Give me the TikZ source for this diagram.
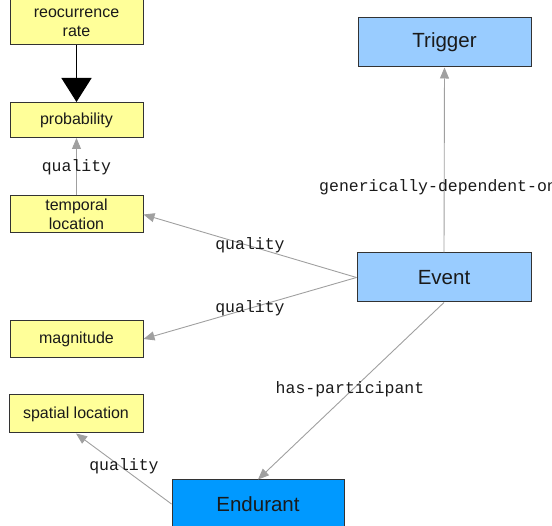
\documentclass[tikz,border=0pt]{standalone}
\usepackage{fontspec}
\setmainfont{Liberation Sans}
\newfontfamily\labelfont{Liberation Mono}
\usetikzlibrary{arrows.meta}
\definecolor{ylw}{HTML}{FFFF99}
\definecolor{lblue}{HTML}{99CCFF}
\definecolor{dblue}{HTML}{0099FF}
\definecolor{edgegray}{HTML}{A0A0A0}
\definecolor{txt}{HTML}{1A1A1A}
\tikzset{
  ybox/.style={draw=black!80, fill=ylw, line width=1pt, inner sep=0pt, minimum width=133pt, text=txt, align=center, font=\fontsize{16}{19}\selectfont},
  bbox/.style={draw=black!80, fill=lblue, line width=1pt, inner sep=0pt, minimum width=173pt, minimum height=49pt, text=txt, font=\fontsize{20.5}{24}\selectfont},
  rel/.style={draw=edgegray, line width=0.9pt, -{Triangle[length=11pt,width=9pt]}},
  rellabel/.style={font=\labelfont\fontsize{16.5}{18}\selectfont, text=txt, inner sep=0pt},
}
\begin{document}
\begin{tikzpicture}[x=1pt,y=-1pt]
\useasboundingbox (0,0) rectangle (552,526);
\begin{scope}
\clip (0,0) rectangle (552,526);
\node[ybox, minimum height=45pt] (reo) at (76.5,22.5) {reocurrence\\rate};
\node[ybox, minimum height=35pt] (prob) at (76.5,120) {\raisebox{-2pt}{probability}};
\node[ybox, minimum height=37pt] (temp) at (76.5,214.5) {temporal\\location};
\node[ybox, minimum height=37pt] (mag) at (76.5,339) {\raisebox{-1pt}{magnitude}};
\node[ybox, minimum height=38pt, minimum width=134pt] (spat) at (76,414) {spatial location};
\node[bbox] (trig) at (444.5,42.5) {Trigger};
\node[bbox, minimum width=174pt] (event) at (444,277.5) {Event};
\node[bbox, fill=dblue, minimum width=172pt, minimum height=48pt] (endu) at (258,504) {Endurant};

\draw[black, line width=1.4pt, -{Triangle[length=24pt,width=30pt]}] (reo) -- (prob);
\draw[rel] (temp) -- (prob) node[rellabel, pos=0.5] (q1) {quality};
\draw[rel] (event.west) -- (temp.east) node[rellabel, pos=0.5, yshift=1pt] (q2) {quality};
\draw[rel] (event.west) -- (mag.east) node[rellabel, pos=0.5, yshift=0pt] (q3) {quality};
\draw[rel] (event.north) -- (trig.south);
\node[rellabel, anchor=west] (gdo) at (319,187) {generically-dependent-on};
\draw[rel] (event.south) -- (endu.north);
\node[rellabel] (hp) at (350,389) {has-participant};
\draw[rel] (endu.west) -- (spat.south);
\node[rellabel] (q4) at (124,466) {quality};
\end{scope}
\end{tikzpicture}
\end{document}
